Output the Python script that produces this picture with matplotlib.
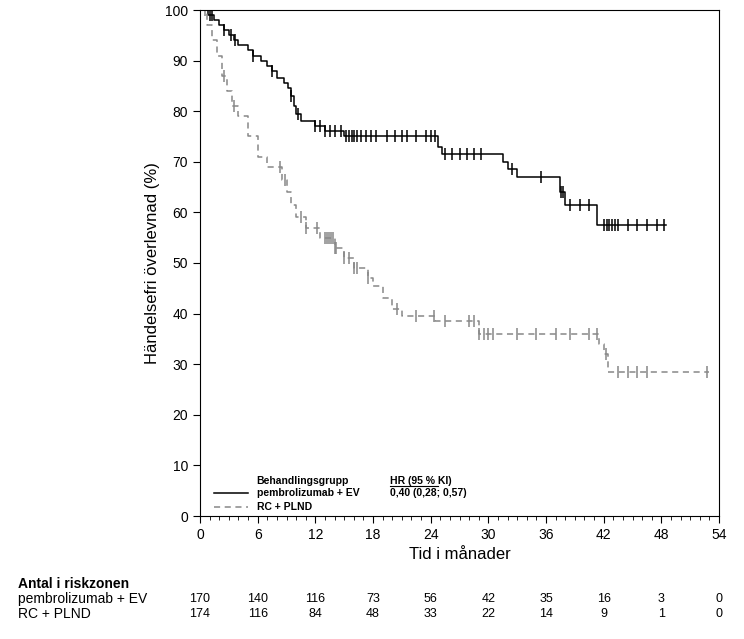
import matplotlib
matplotlib.use("Agg")
import matplotlib.pyplot as plt
import numpy as np
from matplotlib.ticker import MultipleLocator

plt.rcParams['font.family'] = ['Liberation Sans', 'DejaVu Sans']

# step curves (time, survival after event)
pe_t = [0, 0.8, 1.5, 2.0, 2.5, 3.0, 3.5, 4.0, 5.0, 5.5, 6.3, 7.0, 7.5, 8.0, 8.7, 9.2, 9.5, 9.8, 10.0, 10.5, 12.0, 13.0, 15.0, 24.8, 25.2, 31.5, 32.0, 33.0, 37.5, 38.0, 41.3, 48.5]
pe_s = [100, 99, 98, 97, 96, 95, 94, 93, 92, 91, 90, 89, 88, 86.5, 85.5, 84.5, 83, 81, 79.5, 78, 77, 76, 75, 73, 71.5, 70, 68.5, 67, 64, 61.5, 57.5, 57.5]
pe_c = [1.0, 1.2, 2.5, 3.2, 3.6, 5.5, 7.5, 9.5, 10.2, 12.0, 12.5, 13.0, 13.5, 14.0, 14.7, 15.2, 15.5, 15.8, 16.0, 16.3, 16.8, 17.3, 17.8, 18.3, 19.5, 20.3, 21.0, 21.5, 22.5, 23.5, 24.0, 24.5, 25.5, 26.2, 27.0, 27.8, 28.5, 29.2, 32.5, 35.5, 37.6, 37.8, 38.5, 39.5, 40.5, 42.0, 42.3, 42.6, 42.9, 43.2, 43.5, 44.5, 45.5, 46.5, 47.5, 48.3]
rc_t = [0, 0.7, 1.3, 1.8, 2.3, 2.8, 3.3, 4.0, 5.0, 6.0, 7.0, 8.5, 9.0, 9.5, 10.0, 11.0, 12.5, 14.0, 15.0, 16.0, 17.5, 18.0, 19.0, 20.0, 21.0, 24.5, 29.0, 41.5, 42.0, 42.5, 53.0]
rc_s = [100, 97, 94, 91, 87, 84, 81, 79, 75, 71, 69, 66.5, 64, 61.5, 59, 57, 55, 53, 51, 49, 47, 45.5, 43, 41, 39.5, 38.5, 36, 34, 32, 28.5, 28.5]
rc_c = [0.5, 2.5, 3.5, 8.3, 8.8, 10.5, 11.0, 12.2, 13.0, 13.2, 13.4, 13.6, 13.8, 14.0, 14.2, 15.0, 15.5, 16.0, 16.3, 17.5, 20.5, 22.5, 24.3, 25.5, 28.0, 28.5, 29.0, 29.5, 30.0, 30.5, 33.0, 35.0, 37.0, 38.5, 40.5, 41.3, 42.2, 43.5, 44.5, 45.5, 46.5, 52.8]

risk_times = [0, 6, 12, 18, 24, 30, 36, 42, 48, 54]
risk_pe = [170, 140, 116, 73, 56, 42, 35, 16, 3, 0]
risk_rc = [174, 116, 84, 48, 33, 22, 14, 9, 1, 0]

def surv_at(t, ts, ss):
    i = np.searchsorted(ts, t, side='right') - 1
    return ss[max(i, 0)]

fig = plt.figure(figsize=(7.44, 6.39), dpi=100)
ax = fig.add_axes([200/744, 1-516/639, 519/744, 506/639])

ax.step(pe_t, pe_s, where='post', color='black', lw=1.1)
ax.step(rc_t, rc_s, where='post', color='#888888', lw=1.1, dashes=(4, 3))
ax.plot(pe_c, [surv_at(t, pe_t, pe_s) for t in pe_c], ls='none', marker='|', ms=9, mew=1.1, color='black')
ax.plot(rc_c, [surv_at(t, rc_t, rc_s) for t in rc_c], ls='none', marker='|', ms=9, mew=1.1, color='#888888')

ax.set_xlim(0, 54)
ax.set_ylim(0, 100)
ax.set_xticks(range(0, 55, 6))
ax.xaxis.set_minor_locator(MultipleLocator(1))
ax.set_yticks(range(0, 101, 10))
ax.tick_params(direction='out', labelsize=10, length=5)
ax.tick_params(which='minor', length=3)
ax.set_xlabel('Tid i månader', fontsize=12)
ax.set_ylabel('Händelsefri överlevnad (%)', fontsize=12)

# legend
lx, ly = 0.02, 0.045
ax.plot([1.5, 5], [4.5, 4.5], color='black', lw=1.1)
ax.plot([1.5, 5], [1.8, 1.8], color='#888888', lw=1.1, dashes=(4, 3))
ax.text(5.9, 7.0, 'Behandlingsgrupp', fontsize=7.5, fontweight='bold', va='center')
ax.text(5.9, 4.5, 'pembrolizumab + EV', fontsize=7.5, fontweight='bold', va='center')
ax.text(5.9, 1.8, 'RC + PLND', fontsize=7.5, fontweight='bold', va='center')
ax.text(19.8, 7.0, 'HR (95 % KI)', fontsize=7.5, fontweight='bold', va='center')
ax.plot([19.8, 24.8], [6.0, 6.0], color='black', lw=0.8)
ax.text(19.8, 4.5, '0,40 (0,28; 0,57)', fontsize=7.5, fontweight='bold', va='center')

# risk table
def xfig(t):
    return (200 + t * 519/54) / 744
fig.text(18/744, 1-584/639, 'Antal i riskzonen', fontsize=10, fontweight='bold', va='center')
fig.text(18/744, 1-599/639, 'pembrolizumab + EV', fontsize=10, va='center')
fig.text(18/744, 1-614/639, 'RC + PLND', fontsize=10, va='center')
for t, a, b in zip(risk_times, risk_pe, risk_rc):
    fig.text(xfig(t), 1-599/639, str(a), fontsize=9, ha='center', va='center')
    fig.text(xfig(t), 1-614/639, str(b), fontsize=9, ha='center', va='center')

fig.savefig('out.png', dpi=100)
